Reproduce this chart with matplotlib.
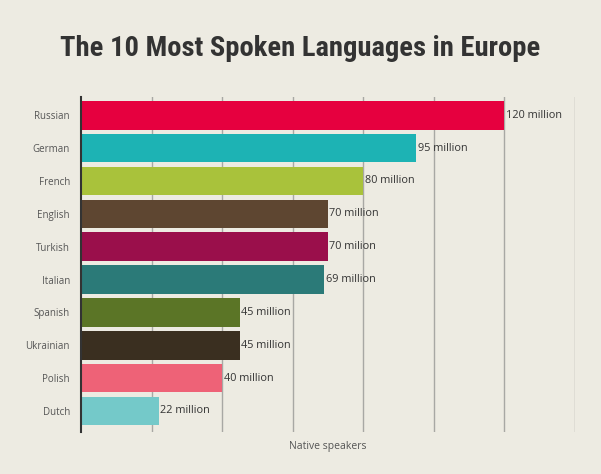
import matplotlib.pyplot as plt

languages = ["Russian", "German", "French", "English", "Turkish",
             "Italian", "Spanish", "Ukrainian", "Polish", "Dutch"]
speakers = [120, 95, 80, 70, 70, 69, 45, 45, 40, 22]
value_labels = ["120 million", "95 million", "80 million", "70 million", "70 milion",
                "69 million", "45 million", "45 million", "40 million", "22 million"]
colors = ["#E6003F", "#1DB3B4", "#A9C23B", "#5E4631", "#9A0F4B",
          "#2B7A78", "#5B7526", "#3A2F20", "#EE6277", "#74C9C9"]

bg = "#EDEBE2"
fig = plt.figure(figsize=(6.01, 4.74), dpi=100, facecolor=bg)
ax = fig.add_axes([0.1348, 0.0886, 0.8219, 0.7064])
ax.set_facecolor(bg)

y = list(range(len(languages)))
ax.barh(y, speakers, height=0.87, color=colors, zorder=3)
for yi, v, lab in zip(y, speakers, value_labels):
    ax.text(v + 0.4, yi, lab, va="center", ha="left", fontsize=7.8,
            family="Open Sans", color="#333333", zorder=4)

ax.set_xlim(0, 140)
ax.set_ylim(9.64, -0.55)
ax.set_xticks(range(20, 141, 20))
ax.set_xticklabels([])
ax.grid(axis="x", color="#A8A8A4", linewidth=1.0, zorder=1)
ax.tick_params(axis="x", length=0)
ax.tick_params(axis="y", length=0, pad=8)
ax.set_yticks(y)
ax.set_yticklabels(languages, fontsize=7, family="Open Sans", color="#555555")
for s in ["top", "right", "bottom"]:
    ax.spines[s].set_visible(False)
ax.spines["left"].set_color("#333333")
ax.spines["left"].set_linewidth(1.5)
ax.spines["left"].set_zorder(5)
ax.set_xlabel("Native speakers", fontsize=7.5, family="Open Sans", color="#555555", labelpad=3)

fig.text(0.5, 0.898, "The 10 Most Spoken Languages in Europe", ha="center", va="center",
         fontsize=20.5, family=["Roboto Condensed", "Roboto"], fontweight="bold",
         color="#333333")

fig.savefig("out.png", dpi=100, facecolor=bg)
